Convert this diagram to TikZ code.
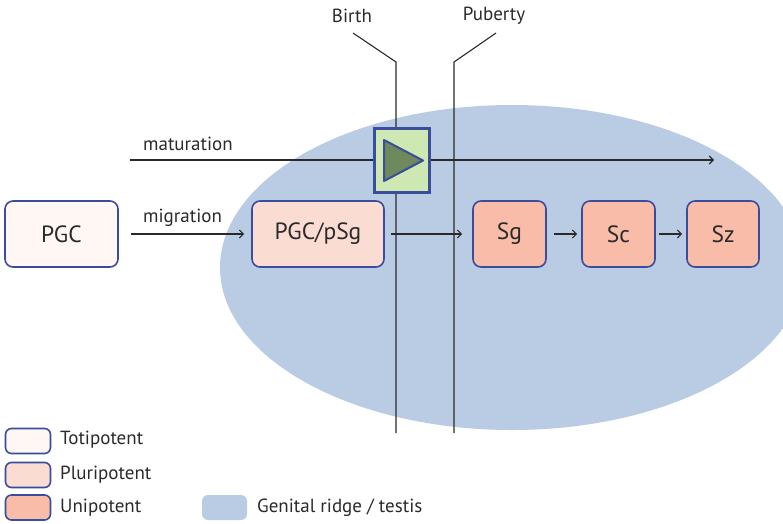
\documentclass[tikz,border=0pt]{standalone}
\usepackage{fontspec}
\setmainfont{PT Sans}
\usetikzlibrary{arrows.meta}
\definecolor{bord}{HTML}{3A4C9C}
\definecolor{ridge}{HTML}{B9CCE4}
\definecolor{toti}{HTML}{FEF7F3}
\definecolor{pluri}{HTML}{FBDCD3}
\definecolor{uni}{HTML}{F8BCA8}
\definecolor{gbox}{HTML}{CDE8B2}
\definecolor{tri}{HTML}{6E8A5C}
\definecolor{ink}{HTML}{2A2A2A}
\begin{document}
\begin{tikzpicture}[x=1pt,y=-1pt,
  cell/.style={draw=bord, line width=1.6pt, rounded corners=8pt, minimum height=66pt, inner sep=0pt, text=ink, font=\fontsize{23.5}{26}\selectfont},
  legbox/.style={draw=bord, line width=1.6pt, rounded corners=6pt, minimum width=45pt, minimum height=25pt, inner sep=0pt},
  lbl/.style={text=ink, inner sep=0pt, font=\fontsize{19}{22}\selectfont},
  conn/.style={draw=ink, line width=1.1pt},
  arr/.style={conn, -{Straight Barb[length=4pt,width=8pt]}}
]
\useasboundingbox (0,0) rectangle (783,523);
\clip (0,0) rectangle (783,523);
% genital ridge
\fill[ridge] (512,267.5) ellipse [x radius=292, y radius=162.5];

% time lines
\coordinate (btop) at (353,33);
\coordinate (bbend) at (396,62);
\coordinate (bbot) at (396,433);
\coordinate (ptop) at (496,33);
\coordinate (pbend) at (454,62);
\coordinate (pbot) at (454,433);
\draw[conn] (btop) -- (bbend) -- (bbot);
\draw[conn] (ptop) -- (pbend) -- (pbot);
\node[lbl] (birth) at (352,16) {Birth};
\node[lbl] (puberty) at (494,16) {Puberty};

% maturation
\node[draw=bord, fill=gbox, line width=3pt, minimum width=55pt, minimum height=64pt, inner sep=0pt] (gb) at (401.5,160) {};
\draw[fill=tri, draw=bord, line width=2pt, line join=round] (384,140) -- (384,181) -- (423,160.5) -- cycle;
\coordinate (mstart) at (130,160);
\coordinate (mend) at (714,160);
\draw[conn] (mstart) -- (gb.west);
\draw[arr] (gb.east) -- (mend);
\node[lbl, anchor=west] (matl) at (143,144) {maturation};

% cells
\node[cell, fill=toti, minimum width=113pt] (pgc) at (61.5,234) {PGC};
\node[cell, fill=pluri, minimum width=132pt] (pgcpsg) at (318,234) {PGC/pSg};
\node[cell, fill=uni, minimum width=73pt] (sg) at (509.5,234) {Sg};
\node[cell, fill=uni, minimum width=73pt] (sc) at (618.5,234) {Sc};
\node[cell, fill=uni, minimum width=72pt] (sz) at (723,234) {Sz};

\draw[arr] ([xshift=12pt]pgc.east) -- ([xshift=-7pt]pgcpsg.west);
\node[lbl, anchor=west] (migl) at (143,218) {migration};
\draw[arr] ([xshift=6pt]pgcpsg.east) -- ([xshift=-10pt]sg.west);
\draw[arr] ([xshift=7pt]sg.east) -- ([xshift=-4pt]sc.west);
\draw[arr] ([xshift=3pt]sc.east) -- ([xshift=-4pt]sz.west);

% legend
\node[legbox, fill=toti] (lt) at (28,441) {};
\node[legbox, fill=pluri] (lp) at (28,475) {};
\node[legbox, fill=uni] (lu) at (28,507.5) {};
\node[fill=ridge, rounded corners=6pt, minimum width=45pt, minimum height=25pt, inner sep=0pt] (lr) at (224.5,507.5) {};
\node[lbl, anchor=west] (ltt) at (60,440) {Totipotent};
\node[lbl, anchor=west] (lpt) at (60,475) {Pluripotent};
\node[lbl, anchor=west] (lut) at (60,508) {Unipotent};
\node[lbl, anchor=west] (lrt) at (257,508) {Genital ridge / testis};
\end{tikzpicture}
\end{document}
